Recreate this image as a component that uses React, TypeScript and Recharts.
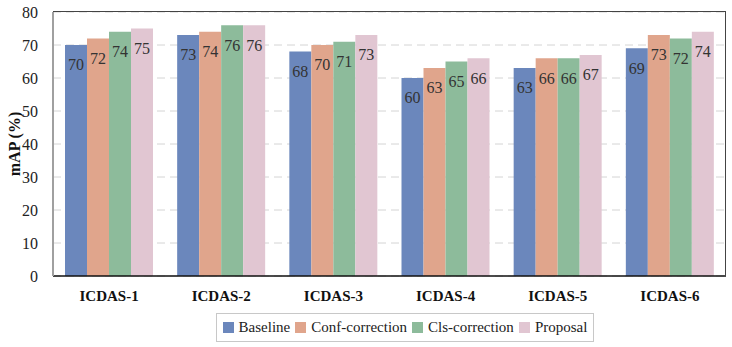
import { BarChart, Bar, XAxis, YAxis, CartesianGrid, Legend, LabelList } from 'recharts';

const categories = ['ICDAS-1', 'ICDAS-2', 'ICDAS-3', 'ICDAS-4', 'ICDAS-5', 'ICDAS-6'];
const baseline = [70, 73, 68, 60, 63, 69];
const confCorrection = [72, 74, 70, 63, 66, 73];
const clsCorrection = [74, 76, 71, 65, 66, 72];
const proposal = [75, 76, 73, 66, 67, 74];
const yTicks = [0, 10, 20, 30, 40, 50, 60, 70, 80];

const series = [
  { key: 'baseline', name: 'Baseline', color: '#6b87bc' },
  { key: 'conf', name: 'Conf-correction', color: '#e0a58c' },
  { key: 'cls', name: 'Cls-correction', color: '#8dbb9b' },
  { key: 'proposal', name: 'Proposal', color: '#e1c6d2' },
];

const data = categories.map((c, i) => ({
  name: c,
  baseline: baseline[i],
  conf: confCorrection[i],
  cls: clsCorrection[i],
  proposal: proposal[i],
}));

const font = '"Liberation Serif", "Times New Roman", serif';

// plot box: left 53, top 12, right 726, bottom 276
const margin = { top: 12, right: 6, left: 0, bottom: 5 };

function LegendBox() {
  return (
    <div style={{ display: 'flex', justifyContent: 'center', paddingLeft: 84, paddingTop: 7 }}>
      <div
        style={{
          display: 'flex',
          alignItems: 'center',
          boxSizing: 'border-box',
          border: '1px solid #c8c8c8',
          padding: '0 6px',
          height: 29,
          fontFamily: font,
          fontSize: 15,
          color: '#222',
          gap: 5,
        }}
      >
        {series.map((s) => (
          <span key={s.key} style={{ display: 'flex', alignItems: 'center', gap: 5 }}>
            <span style={{ width: 11, height: 11, background: s.color, display: 'inline-block' }} />
            {s.name}
          </span>
        ))}
      </div>
    </div>
  );
}

export default function App() {
  return (
    <div style={{ position: 'absolute', left: 0, top: 0, width: 732, height: 347, background: '#fff' }}>
      <BarChart
        width={732}
        height={347}
        data={data}
        margin={margin}
        barCategoryGap={12}
        barGap={0}
      >
        <CartesianGrid vertical={false} stroke="#d4d4d4" strokeDasharray="8 5" />
        <XAxis
          dataKey="name"
          height={30}
          tickLine={false}
          tickSize={0}
          tickMargin={14}
          axisLine={{ stroke: '#111', strokeWidth: 1.5 }}
          tick={{ fill: '#111', fontFamily: font, fontSize: 15, fontWeight: 'bold' }}
        />
        <YAxis
          width={53}
          domain={[0, 80]}
          ticks={yTicks}
          tickLine={false}
          tickMargin={9}
          axisLine={{ stroke: '#a0a0a0', strokeWidth: 2 }}
          tick={{ fill: '#222', fontFamily: font, fontSize: 16 }}
          label={{
            value: 'mAP (%)',
            angle: -90,
            position: 'insideLeft',
            offset: 14,
            style: { textAnchor: 'middle', fill: '#111', fontFamily: font, fontSize: 16, fontWeight: 'bold' },
          }}
        />
        <Legend verticalAlign="bottom" height={36} content={() => <LegendBox />} />
        {series.map((s) => (
          <Bar key={s.key} dataKey={s.key} name={s.name} fill={s.color} isAnimationActive={false}>
            <LabelList
              dataKey={s.key}
              position="insideTop"
              offset={14}
              fill="#333"
              fontFamily={font}
              fontSize={16}
              style={{ fill: '#333', fontFamily: font, fontSize: 16 }}
            />
          </Bar>
        ))}
      </BarChart>
      {/* top and right frame of the plot area */}
      <div
        style={{
          position: 'absolute',
          left: 53,
          top: 11,
          width: 673,
          height: 265,
          borderTop: '1.5px solid #444',
          borderRight: '1.5px solid #444',
          boxSizing: 'border-box',
          pointerEvents: 'none',
        }}
      />
    </div>
  );
}
